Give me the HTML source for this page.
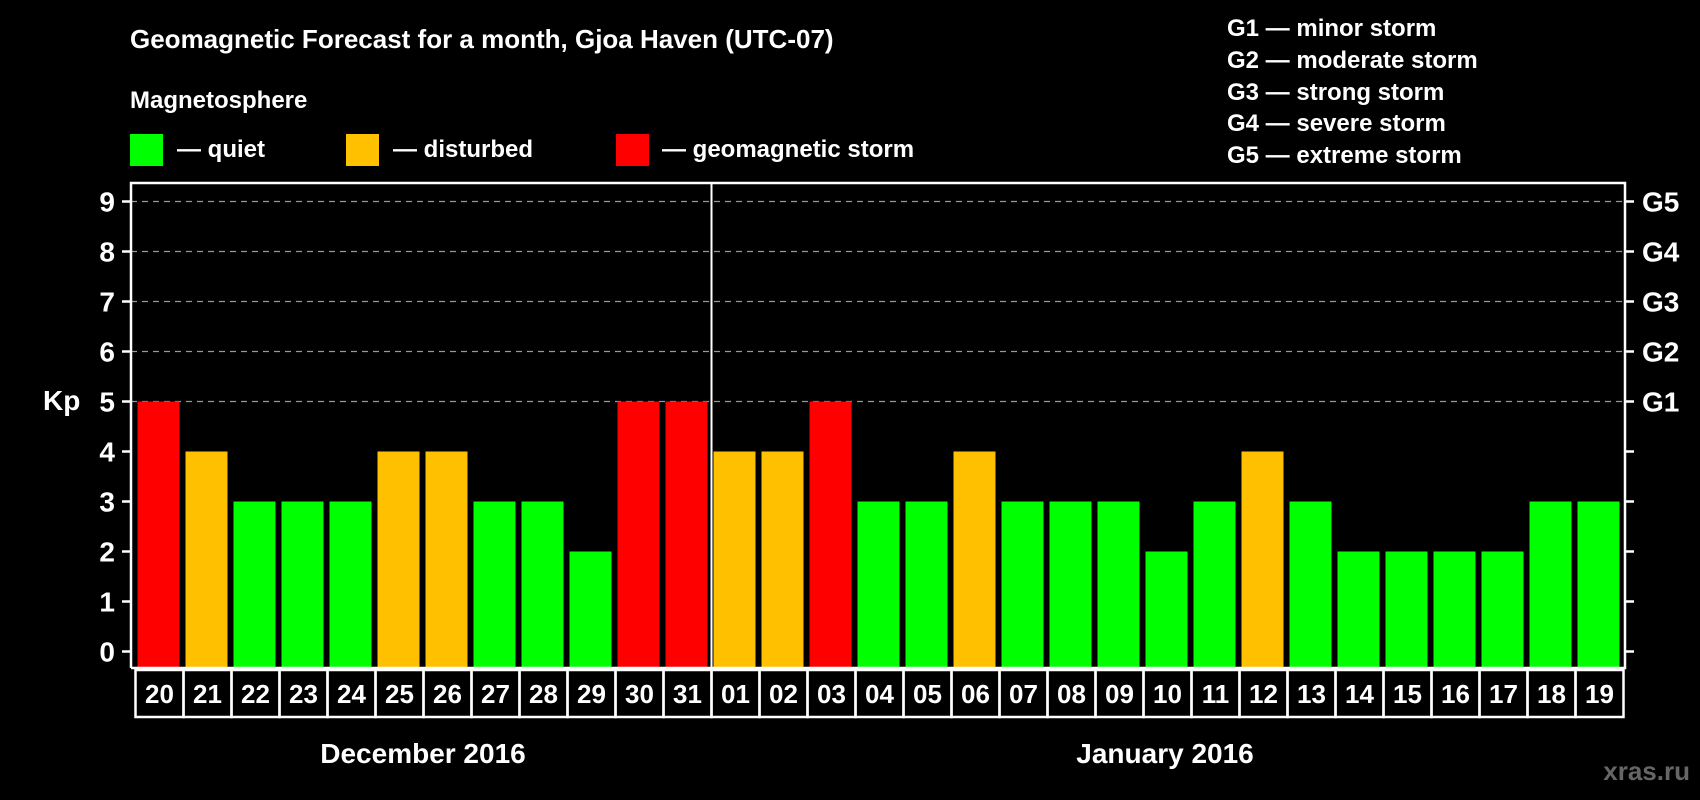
<!DOCTYPE html>
<html><head><meta charset="utf-8">
<style>
html,body{margin:0;padding:0;background:#000;}
svg{display:block;font-family:"Liberation Sans",Arial,sans-serif;font-weight:bold;}
</style></head>
<body>
<svg id="chart" width="1700" height="800" viewBox="0 0 1700 800">
<rect x="0" y="0" width="1700" height="800" fill="#000"/>
<text x="130" y="48" fill="#fff" font-size="26">Geomagnetic Forecast for a month, Gjoa Haven (UTC-07)</text>
<text x="130" y="108" fill="#fff" font-size="24">Magnetosphere</text>
<g>
<rect x="130" y="134" width="33" height="32" fill="#00ff00"/>
<text x="177" y="157" fill="#fff" font-size="24">— quiet</text></g>
<g>
<rect x="346" y="134" width="33" height="32" fill="#ffc000"/>
<text x="393" y="157" fill="#fff" font-size="24">— disturbed</text></g>
<g>
<rect x="616" y="134" width="33" height="32" fill="#ff0000"/>
<text x="662" y="157" fill="#fff" font-size="24">— geomagnetic storm</text></g>
<g fill="#fff" font-size="24">
<text x="1227" y="36">G1 — minor storm</text>
<text x="1227" y="68">G2 — moderate storm</text>
<text x="1227" y="100">G3 — strong storm</text>
<text x="1227" y="131">G4 — severe storm</text>
<text x="1227" y="163">G5 — extreme storm</text>
</g>
<text x="43" y="410" fill="#fff" font-size="28">Kp</text>
<g id="grid"></g>
<g id="bars"></g>
<g id="axes"></g>
<g id="xlabels"></g>
<text x="423" y="763" fill="#fff" font-size="28" text-anchor="middle">December 2016</text>
<text x="1165" y="763" fill="#fff" font-size="28" text-anchor="middle">January 2016</text>
<text x="1690" y="780" fill="#666" font-size="26" text-anchor="end">xras.ru</text>
</svg>
<script>
const days = ["20","21","22","23","24","25","26","27","28","29","30","31","01","02","03","04","05","06","07","08","09","10","11","12","13","14","15","16","17","18","19"];
const kpValues = [5,4,3,3,3,4,4,3,3,2,5,5,4,4,5,3,3,4,3,3,3,2,3,4,3,2,2,2,2,3,3];
const yTicks = [0,1,2,3,4,5,6,7,8,9];
const gLabels = ["","","","","","G1","G2","G3","G4","G5"];
const monthBreakIndex = 12;

const NS = "http://www.w3.org/2000/svg";
const plotL = 131, plotR = 1625, plotT = 183, plotB = 668;
const slot0 = 134.5, pitch = 48, barW = 42;
function y(v){ return 651.5 - v*50; }
function xs(i){ return slot0 + i*pitch; }
function colorFor(v){ return v>=5 ? "#ff0000" : (v>=4 ? "#ffc000" : "#00ff00"); }
function mk(tag, attrs, parent){ const e=document.createElementNS(NS,tag); for(const k in attrs) e.setAttribute(k,attrs[k]); parent.appendChild(e); return e; }

const grid=document.getElementById("grid"), bars=document.getElementById("bars"), axes=document.getElementById("axes"), xl=document.getElementById("xlabels");
yTicks.forEach(t=>{
  if(t>=5){
    const g=mk("line",{x1:plotL,x2:plotR,y1:y(t),y2:y(t),stroke:"#999","stroke-width":1.3,"stroke-dasharray":"6,5"},grid);
    
    
  }
  const tl=mk("line",{x1:plotL-9,x2:plotL,y1:y(t),y2:y(t),stroke:"#fff","stroke-width":2.5},axes);
  
  
  const tr=mk("line",{x1:plotR,x2:plotR+9,y1:y(t),y2:y(t),stroke:"#fff","stroke-width":2.5},axes);
  
  
  const lab=mk("text",{x:115,y:y(t)+10,fill:"#fff","font-size":28,"text-anchor":"end"},axes);
  lab.textContent=t;
  
  
  if(gLabels[t]){
    const gl=mk("text",{x:1642,y:y(t)+10,fill:"#fff","font-size":28},axes);
    gl.textContent=gLabels[t];
    
    
  }
});
kpValues.forEach((v,i)=>{
  const r=mk("rect",{x:xs(i)+3,y:y(v),width:barW,height:y(0)+16.5-y(v)+0,fill:colorFor(v)},bars);
  r.setAttribute("height", plotB-1-y(v));
  
  
  const b=mk("rect",{x:xs(i)+1,y:670,width:pitch,height:47,fill:"none",stroke:"#fff","stroke-width":2.5},xl);
  
  
  const t=mk("text",{x:xs(i)+25,y:703,fill:"#fff","font-size":26,"text-anchor":"middle"},xl);
  t.textContent=days[i];
  
  
});
const frame=mk("path",{d:`M${plotL},${plotB} V${plotT} H${plotR} V${plotB} H${plotL}`,fill:"none",stroke:"#fff","stroke-width":2.5},axes);


const dv=mk("line",{x1:xs(monthBreakIndex)+1,x2:xs(monthBreakIndex)+1,y1:plotT,y2:plotB,stroke:"#fff","stroke-width":2},axes);


</script>
</body></html>
